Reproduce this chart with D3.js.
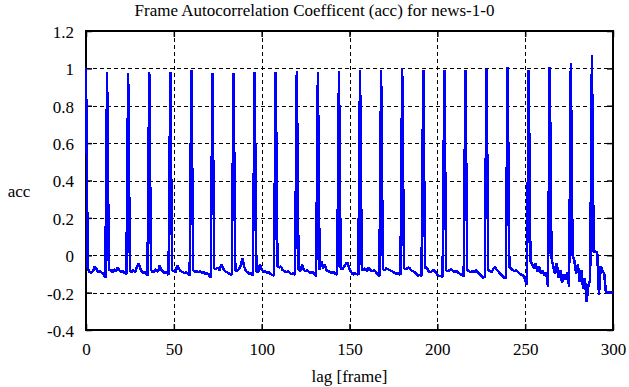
<!DOCTYPE html>
<html>
<head>
<meta charset="utf-8">
<script src="https://cdn.jsdelivr.net/npm/d3@7"></script>
<style>
  body { margin: 0; background: #fff; }
  svg { display: block; }
</style>
</head>
<body>
<div id="chart"></div>
<script>
// autocorrelation per lag, one row = 12 lags (peak, then the lags up to the next peak)
let acc = [
    1.000,-0.070,-0.090,-0.095,-0.085,-0.060,-0.075,-0.090,-0.085,-0.095,-0.100,-0.120,
    0.980,-0.075,-0.080,-0.090,-0.075,-0.085,-0.065,-0.080,-0.090,-0.085,-0.095,-0.100,
    0.975,-0.085,-0.090,-0.080,-0.090,-0.060,-0.045,-0.075,-0.090,-0.095,-0.090,-0.110,
    0.980,-0.080,-0.090,-0.085,-0.075,-0.090,-0.055,-0.080,-0.090,-0.095,-0.090,-0.105,
    0.980,-0.080,-0.085,-0.090,-0.055,-0.075,-0.085,-0.090,-0.095,-0.090,-0.100,-0.110,
    0.990,-0.080,-0.090,-0.085,-0.090,-0.085,-0.095,-0.090,-0.100,-0.095,-0.105,-0.122,
    0.975,-0.070,-0.075,-0.065,-0.080,-0.050,-0.070,-0.085,-0.090,-0.095,-0.100,-0.105,
    0.977,-0.080,-0.085,-0.075,-0.060,-0.015,-0.060,-0.085,-0.090,-0.100,-0.095,-0.110,
    0.980,-0.085,-0.090,-0.050,-0.075,-0.090,-0.085,-0.095,-0.090,-0.100,-0.105,-0.110,
    0.980,-0.060,-0.065,-0.060,-0.080,-0.085,-0.090,-0.085,-0.095,-0.100,-0.095,-0.105,
    0.985,-0.075,-0.085,-0.050,-0.080,-0.085,-0.080,-0.090,-0.095,-0.090,-0.100,-0.113,
    0.980,-0.080,-0.030,-0.070,-0.050,-0.080,-0.085,-0.090,-0.095,-0.090,-0.100,-0.105,
    0.985,-0.070,-0.075,-0.060,-0.045,-0.040,-0.075,-0.090,-0.104,-0.095,-0.100,-0.104,
    0.990,-0.075,-0.080,-0.070,-0.085,-0.065,-0.080,-0.085,-0.080,-0.090,-0.100,-0.113,
    0.990,-0.075,-0.080,-0.070,-0.075,-0.080,-0.085,-0.090,-0.095,-0.100,-0.095,-0.105,
    1.000,-0.070,-0.075,-0.070,-0.065,-0.080,-0.085,-0.090,-0.100,-0.110,-0.105,-0.110,
    0.990,-0.070,-0.065,-0.085,-0.090,-0.085,-0.080,-0.090,-0.105,-0.110,-0.110,-0.115,
    0.990,-0.080,-0.085,-0.080,-0.075,-0.085,-0.090,-0.085,-0.095,-0.100,-0.105,-0.113,
    0.990,-0.080,-0.085,-0.090,-0.085,-0.090,-0.080,-0.090,-0.100,-0.110,-0.120,-0.115,
    0.995,-0.080,-0.085,-0.090,-0.070,-0.065,-0.080,-0.090,-0.100,-0.110,-0.120,-0.122,
    1.005,-0.065,-0.070,-0.080,-0.085,-0.080,-0.090,-0.100,-0.105,-0.110,-0.130,-0.160,
    0.990,-0.030,-0.050,-0.070,-0.045,-0.090,-0.060,-0.100,-0.080,-0.110,-0.090,-0.170,
    1.005,-0.015,-0.060,-0.100,-0.040,-0.120,-0.080,-0.150,-0.100,-0.130,-0.090,-0.170,
    1.030, 0.000,-0.030,-0.100,-0.050,-0.140,-0.080,-0.180,-0.120,-0.247,-0.160,-0.130,
    1.070, 0.020, 0.020, 0.015,-0.210,-0.060,-0.080,-0.100,-0.200,-0.200,-0.200,-0.200,
   -0.200
];

let xTicks = [0, 50, 100, 150, 200, 250, 300];
let yTicks = [-0.4, -0.2, 0, 0.2, 0.4, 0.6, 0.8, 1, 1.2];
let yTickLabels = ["-0.4", "-0.2", "0", "0.2", "0.4", "0.6", "0.8", "1", "1.2"];

let titulo = "Frame Autocorrelation Coefficent (acc) for news-1-0";
let xLabel = "lag [frame]";
let yLabel = "acc";

let larg = 629;
let alt = 387;
let esq = 86, dir = 613, topo = 31, base = 330;
let fonte = "Liberation Serif, Times New Roman, serif";

let canvas = d3.select("#chart")
                .append("svg")
                .attr("width", larg)
                .attr("height", alt);

let escX = d3.scaleLinear()
                .domain([0, 300])
                .range([esq, dir]);

let escY = d3.scaleLinear()
                .domain([-0.4, 1.2])
                .range([base, topo]);

// grid
let grid = canvas.append("g")
                .attr("stroke", "black")
                .attr("stroke-width", 1)
                .attr("stroke-dasharray", "4,3")
                .attr("shape-rendering", "crispEdges");

grid.selectAll(".gx")
    .data(xTicks.slice(1, -1))
    .enter()
        .append("line")
        .attr("x1", d => Math.round(escX(d)) + 0.5)
        .attr("x2", d => Math.round(escX(d)) + 0.5)
        .attr("y1", topo)
        .attr("y2", base);

grid.selectAll(".gy")
    .data(yTicks.slice(1, -1))
    .enter()
        .append("line")
        .attr("y1", d => Math.round(escY(d)) + 0.5)
        .attr("y2", d => Math.round(escY(d)) + 0.5)
        .attr("x1", esq)
        .attr("x2", dir);

// axes (ticks pointing inward)
let eixoX = d3.axisBottom(escX).tickValues(xTicks).tickSizeInner(-6).tickSizeOuter(0);
let eixoX2 = d3.axisTop(escX).tickValues(xTicks).tickSizeInner(-6).tickSizeOuter(0).tickFormat("");
let eixoY = d3.axisLeft(escY).tickValues(yTicks).tickSizeInner(-6).tickSizeOuter(0)
                .tickFormat((d, i) => yTickLabels[i]);
let eixoY2 = d3.axisRight(escY).tickValues(yTicks).tickSizeInner(-6).tickSizeOuter(0).tickFormat("");

let gx = canvas.append("g").attr("transform", "translate(0," + base + ")").call(eixoX);
canvas.append("g").attr("transform", "translate(0," + topo + ")").call(eixoX2);
let gy = canvas.append("g").attr("transform", "translate(" + esq + ",0)").call(eixoY);
canvas.append("g").attr("transform", "translate(" + dir + ",0)").call(eixoY2);

canvas.selectAll(".domain").remove();
canvas.selectAll(".tick line").attr("stroke", "black").attr("stroke-width", 1.5);
canvas.selectAll("g").attr("font-family", fonte).attr("font-size", 17);

gx.selectAll("text")
    .attr("y", 25)
    .attr("dy", 0)
    .attr("font-family", fonte)
    .attr("font-size", 17)
    .attr("fill", "black");

gy.selectAll("text")
    .attr("x", -12)
    .attr("dy", "0.38em")
    .attr("font-family", fonte)
    .attr("font-size", 17)
    .attr("fill", "black");

// frame
canvas.append("rect")
        .attr("x", esq)
        .attr("y", topo)
        .attr("width", dir - esq)
        .attr("height", base - topo)
        .attr("fill", "none")
        .attr("stroke", "black")
        .attr("stroke-width", 2);

// data line (drawn over the frame, as in the original)
let linha = d3.line()
                .x((d, i) => escX(i))
                .y(d => escY(d));

canvas.append("path")
        .datum(acc)
        .attr("d", linha)
        .attr("fill", "none")
        .attr("stroke", "#0000ff")
        .attr("stroke-width", 2.5)
        .attr("stroke-linejoin", "bevel")
        .attr("shape-rendering", "crispEdges");

// texts
canvas.append("text")
        .attr("x", larg / 2)
        .attr("y", 16)
        .attr("text-anchor", "middle")
        .attr("font-family", fonte)
        .attr("font-size", 17)
        .text(titulo);

canvas.append("text")
        .attr("x", (esq + dir) / 2)
        .attr("y", 382)
        .attr("text-anchor", "middle")
        .attr("font-family", fonte)
        .attr("font-size", 17)
        .text(xLabel);

canvas.append("text")
        .attr("x", 19)
        .attr("y", 197)
        .attr("text-anchor", "middle")
        .attr("font-family", fonte)
        .attr("font-size", 17)
        .text(yLabel);
</script>
</body>
</html>
